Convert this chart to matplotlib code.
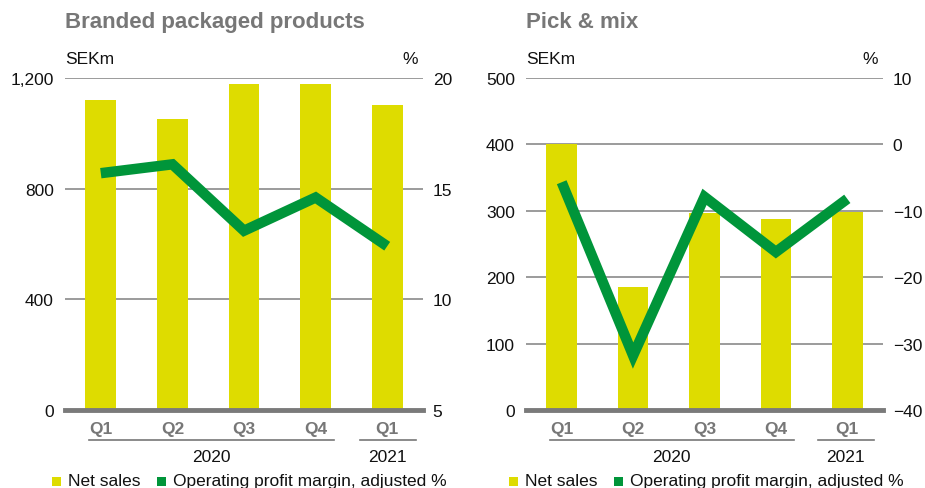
import matplotlib
matplotlib.use("Agg")
import matplotlib.pyplot as plt
from matplotlib.patches import Rectangle
from matplotlib.transforms import blended_transform_factory

plt.rcParams['font.family'] = ['Liberation Sans', 'DejaVu Sans']

quarters = ["Q1", "Q2", "Q3", "Q4", "Q1"]
years = ["2020", "2021"]

bpp_sales = [1120, 1052, 1178, 1178, 1102]
bpp_margin = [15.7, 16.1, 13.1, 14.6, 12.4]

pm_sales = [400, 185, 297, 288, 298]
pm_margin = [-5.7, -31.8, -7.9, -16.2, -8.2]

YELLOW = "#DEDC00"
GREEN = "#00953A"
GRAY = "#777777"
GRID = "#8a8a8a"

W, H = 925, 489
fig = plt.figure(figsize=(W / 100, H / 100), dpi=100)


def make_panel(rect, title, sales, margin, lticks, lticklabels, rticks, rticklabels, seg2020, seg2021):
    ax = fig.add_axes(rect)
    x = list(range(len(sales)))
    ax.bar(x, sales, width=0.43, color=YELLOW, zorder=2)
    ax.set_xlim(-0.5, 4.5)
    ax.set_ylim(lticks[0], lticks[-1])
    ax.set_yticks(lticks)
    ax.set_yticklabels(lticklabels)
    ax.set_axisbelow(True)
    ax.grid(axis='y', color=GRID, linewidth=1.2, zorder=0)
    for s in ax.spines.values():
        s.set_visible(False)
    ax.tick_params(axis='y', length=0, pad=8, labelsize=12.5, colors="#111111")
    ax.set_xticks(x)
    ax.set_xticklabels(quarters, fontweight='bold', color=GRAY, fontsize=12.5)
    ax.tick_params(axis='x', length=0, pad=8)
    ax.axhline(lticks[0], color="#7a7a7a", linewidth=3.5, zorder=5, clip_on=False)

    ax2 = ax.twinx()
    ax2.set_ylim(rticks[0], rticks[-1])
    ax2.set_yticks(rticks)
    ax2.set_yticklabels(rticklabels)
    ax2.tick_params(axis='y', length=0, pad=7, labelsize=12.5, colors="#111111")
    for s in ax2.spines.values():
        s.set_visible(False)
    ax2.plot(x, margin, color=GREEN, linewidth=7.5, solid_joinstyle='miter', solid_capstyle='butt', zorder=4)

    tr = blended_transform_factory(ax.transData, ax.transAxes)
    for (x0, x1), yr in zip([seg2020, seg2021], years):
        ax.plot([x0, x1], [-0.091, -0.091], transform=tr, color=GRAY, linewidth=1.2, clip_on=False)
        ax.text((x0 + x1) / 2, -0.14, yr, transform=tr, ha='center', va='center', fontsize=12.5, color="#111111")

    ax.text(0, 1.06, "SEKm", transform=ax.transAxes, ha='left', va='center', fontsize=12.5, color="#111111")
    ax.text(0.965, 1.06, "%", transform=ax.transAxes, ha='center', va='center', fontsize=12.5, color="#111111")
    ax.text(0, 1.169, title, transform=ax.transAxes, ha='left', va='center', fontsize=16, fontweight='bold', color=GRAY)
    return ax


def px(xl, xr, yt, yb):
    return [xl / W, 1 - yb / H, (xr - xl) / W, (yb - yt) / H]


make_panel(px(65, 423, 79, 411), "Branded packaged products", bpp_sales, bpp_margin,
           [0, 400, 800, 1200], ["0", "400", "800", "1,200"],
           [5, 10, 15, 20], ["5", "10", "15", "20"],
           (-0.17, 3.25), (3.62, 4.40))

make_panel(px(526, 883, 79, 411), "Pick & mix", pm_sales, pm_margin,
           [0, 100, 200, 300, 400, 500], ["0", "100", "200", "300", "400", "500"],
           [-40, -30, -20, -10, 0, 10], ["\u221240", "\u221230", "\u221220", "\u221210", "0", "10"],
           (-0.17, 3.25), (3.59, 4.37))


def legend(x0):
    y = 482
    s = 9
    fig.patches.append(Rectangle((x0 / W, 1 - (y + s / 2) / H), s / W, s / H, transform=fig.transFigure,
                                 facecolor=YELLOW, edgecolor='none'))
    fig.text((x0 + 16) / W, 1 - y / H, "Net sales", ha='left', va='center', fontsize=12.5, color="#111111")
    gx = x0 + 105
    fig.patches.append(Rectangle((gx / W, 1 - (y + s / 2) / H), s / W, s / H, transform=fig.transFigure,
                                 facecolor=GREEN, edgecolor='none'))
    fig.text((gx + 16) / W, 1 - y / H, "Operating profit margin, adjusted %", ha='left', va='center',
             fontsize=12.5, color="#111111")


legend(52)
legend(509)

fig.savefig("out.png", dpi=100)
